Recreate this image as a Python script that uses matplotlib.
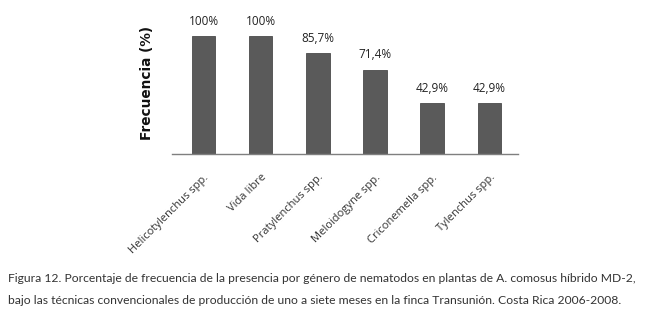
import matplotlib.pyplot as plt

generos = ['Helicotylenchus spp.', 'Vida libre', 'Pratylenchus spp.',
           'Meloidogyne spp.', 'Criconemella spp.', 'Tylenchus spp.']
frecuencia = [100, 100, 85.7, 71.4, 42.9, 42.9]
etiquetas = ['100%', '100%', '85,7%', '71,4%', '42,9%', '42,9%']

fig = plt.figure(figsize=(6.54, 3.18), dpi=100)
ax = fig.add_axes([172 / 654, 1 - 154 / 318, 346 / 654, 118 / 318])

x = range(len(generos))
ax.bar(x, frecuencia, width=0.41, color='#5a5a5a', edgecolor='#4a4a4a', linewidth=0.6)
for xi, v, t in zip(x, frecuencia, etiquetas):
    ax.text(xi, v + 7, t, ha='center', va='bottom', fontsize=8.5,
            family='Open Sans', color='#222222', clip_on=False)

ax.set_xlim(-0.55, 5.5)
ax.set_ylim(0, 100)
for s in ['top', 'right', 'left']:
    ax.spines[s].set_visible(False)
ax.spines['bottom'].set_color('#7f7f7f')
ax.spines['bottom'].set_linewidth(1.0)
ax.set_yticks([])
ax.set_xticks(list(x))
ax.set_xticklabels(generos, rotation=45, ha='right', rotation_mode='anchor',
                   fontsize=8, family='Open Sans', color='#333333')
ax.tick_params(axis='x', length=0, pad=13)
ax.set_ylabel('Frecuencia (%)', fontsize=9.8, fontweight='bold',
              family='DejaVu Sans', color='#111111')
ax.yaxis.set_label_coords(-0.052, 0.60)

fig.text(8 / 654, 1 - 279 / 318,
         'Figura 12. Porcentaje de frecuencia de la presencia por género de nematodos en plantas de A. comosus híbrido MD-2,',
         fontsize=8.7, family='Lato', color='#333333', va='center')
fig.text(8 / 654, 1 - 301 / 318,
         'bajo las técnicas convencionales de producción de uno a siete meses en la finca Transunión. Costa Rica 2006-2008.',
         fontsize=8.7, family='Lato', color='#333333', va='center')

fig.savefig('out.png', dpi=100)
